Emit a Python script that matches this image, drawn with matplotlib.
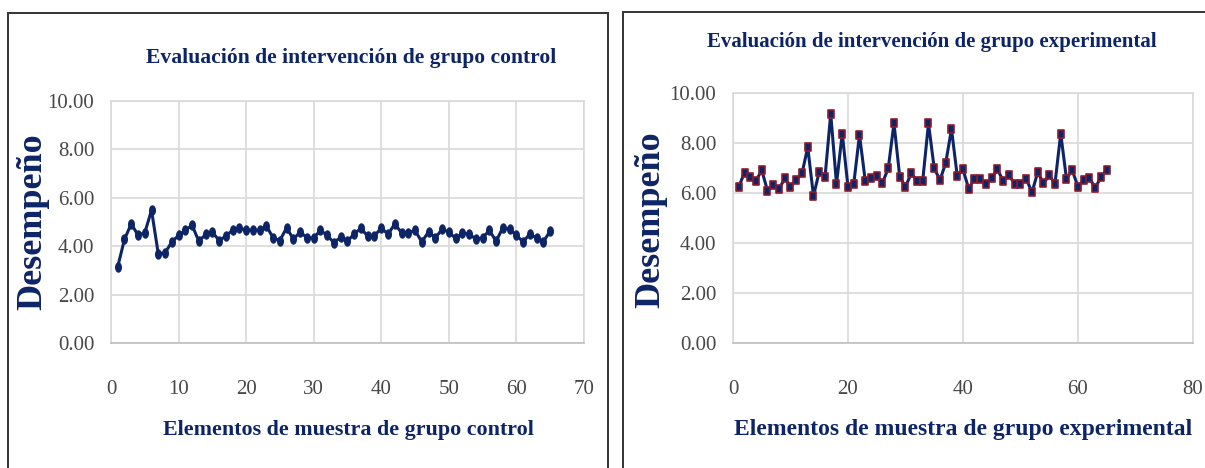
#!/usr/bin/env python3
"""
plot.py - Evaluacion de intervencion, grupo control vs grupo experimental
"""

import matplotlib

matplotlib.use("Agg")
import matplotlib.pyplot as plt
import numpy as np
from matplotlib.patches import Rectangle
from matplotlib.path import Path

# grupo control (65 elementos)
control = [
    3.15, 4.28, 4.92, 4.45, 4.55, 5.48, 3.68, 3.72, 4.17, 4.44,
    4.65, 4.86, 4.20, 4.48, 4.58, 4.23, 4.41, 4.66, 4.76, 4.65,
    4.66, 4.65, 4.83, 4.34, 4.23, 4.76, 4.28, 4.59, 4.34, 4.34,
    4.65, 4.44, 4.14, 4.37, 4.20, 4.51, 4.73, 4.41, 4.41, 4.76,
    4.48, 4.92, 4.55, 4.55, 4.65, 4.17, 4.59, 4.34, 4.69, 4.58,
    4.32, 4.52, 4.51, 4.28, 4.34, 4.65, 4.20, 4.76, 4.69, 4.45,
    4.17, 4.51, 4.32, 4.18, 4.62,
]

# grupo experimental (65 elementos)
experimental = [
    6.26, 6.82, 6.63, 6.50, 6.92, 6.10, 6.33, 6.16, 6.59, 6.26,
    6.53, 6.79, 7.84, 5.89, 6.86, 6.63, 9.18, 6.37, 8.39, 6.26,
    6.36, 8.34, 6.50, 6.59, 6.68, 6.42, 6.99, 8.80, 6.66, 6.26,
    6.79, 6.50, 6.50, 8.80, 6.99, 6.53, 7.21, 8.57, 6.70, 6.95,
    6.18, 6.58, 6.55, 6.38, 6.62, 6.95, 6.49, 6.71, 6.38, 6.38,
    6.58, 6.03, 6.84, 6.39, 6.71, 6.38, 8.39, 6.58, 6.92, 6.26,
    6.53, 6.62, 6.20, 6.66, 6.92,
]

y_ticks = [0, 2, 4, 6, 8, 10]
x_ticks_control = [0, 10, 20, 30, 40, 50, 60, 70]
x_ticks_exp = [0, 20, 40, 60, 80]

NAVY = "#0D2566"
RED = "#8E1B2E"
TICK_GRAY = "#474747"
GRID = "#D9D9D9"
SERIF = ["Liberation Serif", "DejaVu Serif"]

# squashed markers, like the source picture
ELLIPSE = Path(np.column_stack([0.62 * np.cos(np.linspace(0, 2 * np.pi, 40)),
                                np.sin(np.linspace(0, 2 * np.pi, 40))]))
TALL_SQUARE = Path([(-0.62, -1), (0.62, -1), (0.62, 1), (-0.62, 1), (-0.62, -1)],
                   [Path.MOVETO, Path.LINETO, Path.LINETO, Path.LINETO, Path.CLOSEPOLY])


def style_axes(ax, xticks, xmax):
    ax.set_xlim(0, xmax)
    ax.set_ylim(0, 10)
    ax.set_xticks(xticks)
    ax.set_yticks(y_ticks)
    ax.set_yticklabels([f"{v:.2f}" for v in y_ticks])
    ax.grid(True, color=GRID, linewidth=1.2)
    ax.set_axisbelow(True)
    for side, sp in ax.spines.items():
        sp.set_color("#BFBFBF" if side == "bottom" else GRID)
        sp.set_linewidth(1.2)
    ax.tick_params(length=0, labelcolor=TICK_GRAY, labelsize=15)
    ax.tick_params(axis="x", pad=27)
    ax.tick_params(axis="y", pad=12)
    for lab in ax.get_xticklabels() + ax.get_yticklabels():
        lab.set_family(SERIF)


fig = plt.figure(figsize=(12.05, 4.68), dpi=100)

# panel frames
fig.patches.append(Rectangle((8 / 1205, -0.05), 600 / 1205, 1.05 - 13 / 468,
                             transform=fig.transFigure, fill=False,
                             edgecolor="#333333", linewidth=1.4))
fig.patches.append(Rectangle((623 / 1205, -0.05), 600 / 1205, 1.05 - 12 / 468,
                             transform=fig.transFigure, fill=False,
                             edgecolor="#333333", linewidth=1.4))

# grupo control
ax1 = fig.add_axes([0.0921, 0.2671, 0.3925, 0.5177])
x1 = np.arange(1, len(control) + 1)
ax1.plot(x1, control, color=NAVY, linewidth=2.2, marker=ELLIPSE,
         markersize=6.5, markerfacecolor=NAVY, markeredgecolor=NAVY)
style_axes(ax1, x_ticks_control, 70)

# grupo experimental
ax2 = fig.add_axes([0.6083, 0.2671, 0.3817, 0.5335])
x2 = np.arange(1, len(experimental) + 1)
ax2.plot(x2, experimental, color=NAVY, linewidth=2.2, marker=TALL_SQUARE,
         markersize=6, markerfacecolor=NAVY, markeredgecolor=RED,
         markeredgewidth=1.2)
style_axes(ax2, x_ticks_exp, 80)

# titles and labels
fig.text(351 / 1205, 1 - 58 / 468, "Evaluación de intervención de grupo control",
         ha="center", va="center", fontsize=15.6, fontweight="bold",
         color=NAVY, family=SERIF)
fig.text(932 / 1205, 1 - 42 / 468, "Evaluación de intervención de grupo experimental",
         ha="center", va="center", fontsize=15, fontweight="bold",
         color=NAVY, family=SERIF)

fig.text(348 / 1205, 1 - 430 / 468, "Elementos de muestra de grupo control",
         ha="center", va="center", fontsize=15.8, fontweight="bold",
         color=NAVY, family=SERIF)
fig.text(963 / 1205, 1 - 430 / 468, "Elementos de muestra de grupo experimental",
         ha="center", va="center", fontsize=17, fontweight="bold",
         color=NAVY, family=SERIF)

fig.text(33 / 1205, 1 - 222 / 468, "Desempeño", rotation=90,
         ha="center", va="center", fontsize=26, fontweight="bold",
         color=NAVY, family=SERIF)
fig.text(651 / 1205, 1 - 220 / 468, "Desempeño", rotation=90,
         ha="center", va="center", fontsize=26, fontweight="bold",
         color=NAVY, family=SERIF)

fig.savefig("out.png", dpi=100)
plt.close(fig)
